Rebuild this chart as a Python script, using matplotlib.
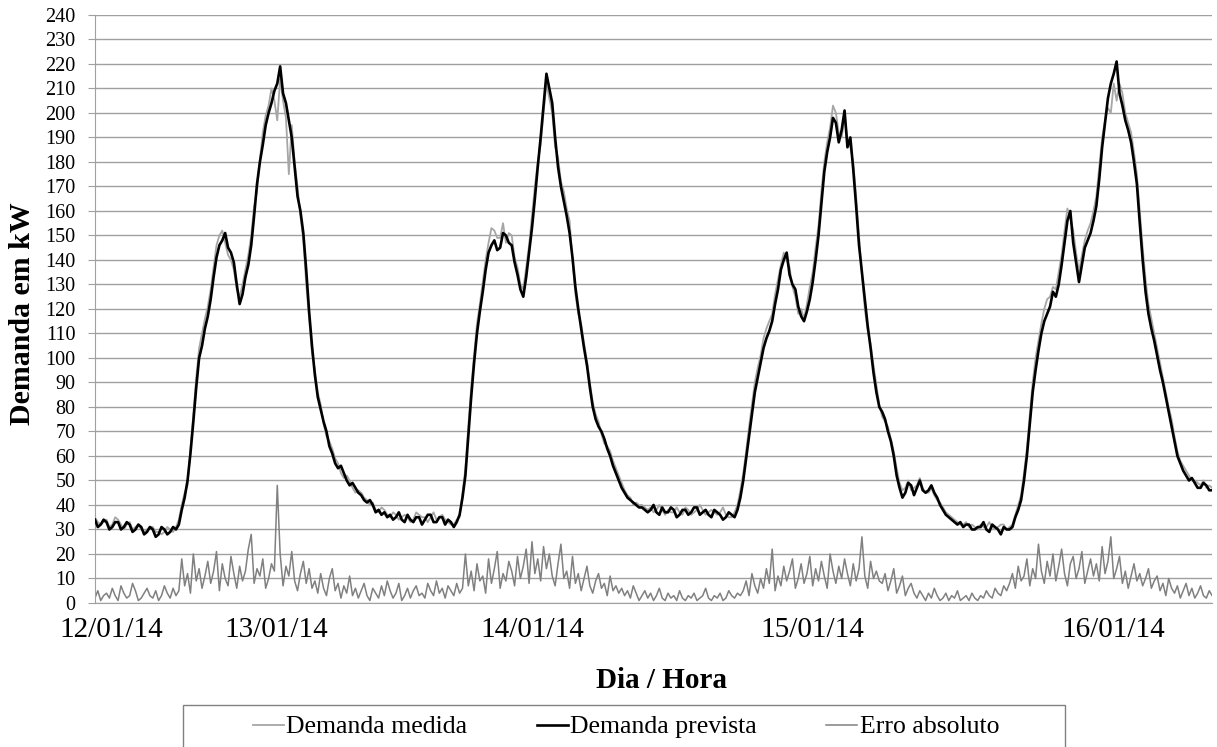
import numpy as np
import matplotlib
matplotlib.use("Agg")
import matplotlib.pyplot as plt
from matplotlib.patches import Rectangle

plt.rcParams['font.family'] = ['Liberation Serif', 'DejaVu Serif']

# 15-minute samples starting 12/01/14 00:00 (kW)
demanda_prevista = [
    34, 31, 32, 34, 33, 30, 31, 33, 33, 30, 31, 33, 32, 29, 30, 32, 31, 28, 29, 31, 30, 27, 28, 31, 30, 28, 29, 31, 30, 32,
    38, 43, 50, 61, 74, 88, 100, 105, 112, 117, 124, 133, 141, 146, 148, 151, 145, 143, 139, 130, 122, 126, 133, 138, 146, 158, 171, 180, 187, 195,
    200, 204, 209, 212, 219, 208, 204, 197, 190, 178, 166, 160, 151, 136, 119, 105, 93, 84, 79, 74, 70, 64, 61, 57, 55, 56, 53, 50, 48, 49, 47, 45, 44, 42, 41, 42,
    40, 37, 38, 36, 37, 35, 36, 34, 35, 37, 34, 33, 36, 34, 33, 35, 35, 32, 34, 36, 36, 33, 33, 35, 35, 32, 34, 33, 31, 33, 36, 43,
    52, 68, 84, 98, 110, 119, 127, 136, 143, 146, 148, 144, 145, 151, 150, 147, 146, 139, 134, 128, 125, 133, 143, 153, 165, 178, 190, 203, 216, 210, 204, 190,
    178, 170, 164, 158, 151, 141, 129, 120, 112, 104, 97, 88, 80, 75, 72, 70, 67, 63, 60, 56, 53, 50, 47, 45, 43, 42, 41, 40, 39, 39, 38, 37,
    38, 40, 37, 36, 39, 37, 37, 39, 38, 35, 36, 38, 38, 36, 37, 39, 39, 36, 37, 38, 36, 35, 38, 37, 36, 34, 35, 37, 36, 35,
    38, 43, 50, 59, 68, 77, 86, 92, 98, 104, 108, 111, 115, 122, 128, 136, 140, 143, 134, 130, 128, 121, 117, 115, 119, 124, 131, 140, 150, 163, 176, 184, 190, 198, 196, 188, 193, 201, 186, 190,
    177, 162, 146, 135, 124, 113, 104, 94, 86, 80, 78, 75, 70, 66, 60, 52, 47, 43, 45, 49, 48, 44, 47, 50, 46, 45, 46, 48, 45, 43, 40, 38, 36, 35, 34, 33, 32, 33, 31, 32,
    32, 30, 30, 31, 31, 33, 30, 29, 32, 31, 30, 28, 31, 30, 30, 31, 35, 38, 42, 50, 60, 73, 86, 95, 103, 110, 115, 118, 121, 127, 125, 130, 138, 147, 156, 160, 147, 139, 131, 138,
    145, 148, 151, 156, 162, 173, 186, 196, 206, 212, 216, 221, 208, 203, 197, 193, 188, 180, 171, 155, 140, 127, 118, 112, 107, 101, 95, 90, 84, 78, 72, 66, 60, 57, 54, 52, 50, 51, 49, 47,
    47, 49, 48, 46, 46,
]

demanda_medida = [
    35, 33, 32, 33, 34, 31, 32, 35, 34, 32, 30, 32, 33, 30, 31, 32, 30, 29, 30, 31, 31, 29, 29, 28, 29, 31, 30, 29, 31, 34,
    40, 45, 48, 63, 77, 92, 104, 110, 116, 121, 128, 137, 146, 150, 152, 147, 142, 140, 136, 128, 125, 130, 136, 142, 150, 162, 168, 181, 192, 199,
    203, 210, 205, 197, 214, 205, 198, 175, 195, 180, 170, 158, 148, 130, 116, 102, 95, 86, 81, 73, 68, 66, 63, 59, 57, 53, 51, 52, 50, 47, 45, 46, 45, 43, 42, 40,
    41, 38, 37, 39, 38, 36, 35, 37, 36, 34, 35, 36, 35, 33, 34, 37, 36, 35, 35, 33, 35, 37, 34, 35, 36, 34, 33, 32, 32, 34, 35, 45,
    55, 72, 88, 101, 114, 122, 131, 140, 147, 153, 152, 149, 149, 155, 147, 151, 150, 141, 137, 130, 128, 137, 146, 158, 170, 180, 187, 200, 212, 206, 200, 186,
    182, 172, 168, 161, 156, 140, 126, 118, 114, 106, 99, 90, 82, 77, 74, 69, 65, 64, 62, 58, 55, 52, 49, 46, 44, 43, 40, 41, 40, 40, 39, 38,
    39, 37, 38, 40, 38, 36, 38, 37, 37, 39, 37, 36, 39, 38, 36, 37, 38, 40, 38, 36, 37, 38, 37, 36, 37, 39, 36, 35, 35, 37,
    40, 46, 53, 62, 72, 81, 90, 96, 101, 108, 112, 115, 118, 126, 132, 138, 143, 140, 137, 129, 125, 118, 120, 116, 122, 129, 135, 145, 154, 168, 180, 188, 194, 203, 200, 192, 190, 198, 190, 186,
    180, 166, 150, 134, 120, 111, 106, 97, 89, 81, 76, 74, 72, 67, 62, 55, 49, 46, 47, 50, 46, 47, 48, 51, 47, 45, 45, 47, 44, 42, 41, 39, 37, 36, 35, 34, 33, 32, 32, 33,
    31, 32, 31, 30, 32, 31, 31, 33, 31, 30, 31, 32, 32, 30, 31, 32, 36, 40, 44, 53, 63, 77, 90, 100, 107, 114, 120, 124, 125, 129, 128, 135, 142, 152, 161, 157, 152, 143, 135, 142,
    148, 152, 155, 160, 166, 178, 190, 197, 202, 200, 212, 205, 212, 208, 200, 196, 192, 184, 175, 160, 145, 132, 122, 116, 110, 104, 98, 92, 86, 80, 75, 68, 62, 58, 56, 54, 52, 50, 50, 49,
    48, 50, 47, 48, 47,
]

erro_absoluto = [
    2, 5, 1, 3, 4, 2, 6, 3, 1, 7, 4, 2, 3, 8, 5, 1, 2, 4, 6, 3, 2, 5, 1, 3, 7, 4, 2, 6, 3, 5,
    18, 7, 12, 4, 20, 9, 14, 6, 11, 17, 8, 13, 21, 5, 16, 10, 7, 19, 12, 6, 15, 9, 13, 22, 28, 8, 14, 11, 18, 6,
    10, 16, 13, 48, 20, 7, 15, 11, 21, 9, 5, 12, 17, 8, 14, 6,
    9, 4, 12, 6, 3, 10, 14, 5, 8, 2, 7, 4, 11, 3, 6, 2, 5, 8, 3, 1, 6, 4, 2, 7, 3, 9, 5, 2, 4, 8,
    1, 3, 6, 2, 5, 7, 3, 4, 2, 8, 5, 3, 9, 4, 6, 2, 7, 5, 3, 8, 4, 6,
    20, 7, 13, 5, 16, 9, 11, 4, 18, 8, 14, 21, 6, 12, 9, 17, 13, 7, 19, 10, 15, 22, 8, 25, 12, 18, 9, 23, 14, 20,
    11, 7, 16, 24, 10, 13, 6, 19, 8, 12, 5, 10, 15, 7, 4, 9, 12, 6, 8, 3, 11, 5, 7, 4,
    6, 3, 5, 2, 7, 4, 1, 3, 5, 2, 4, 1, 3, 6, 2, 1, 4, 2, 3, 1, 5, 2, 1, 3, 2, 4, 1, 2, 3, 6,
    2, 1, 3, 2, 4, 1, 2, 5, 3, 2, 4, 3,
    5, 9, 3, 12, 7, 4, 10, 6, 14, 8, 22, 5, 11, 7, 15, 9, 13, 18, 6, 10, 16, 8, 12, 19, 7, 14, 9, 17, 11, 6,
    20, 13, 8, 15, 10, 18, 12, 7, 16, 9, 14, 27, 11, 6, 17, 10, 13, 9, 8, 12, 5, 9, 14, 4, 7, 11, 3, 6, 8, 4,
    2, 5, 3, 1, 4, 2, 6, 3, 1, 2, 4, 1, 3, 2, 5, 1, 2, 3, 1, 4, 2, 1, 3, 2, 5, 3, 2, 6, 4, 3, 7, 5,
    8, 12, 6, 15, 9, 11, 18, 7, 14, 10, 24, 13, 8, 17, 11, 20, 9, 15, 22, 12, 7, 16, 19, 10, 14, 21, 8, 13, 18, 11,
    16, 9, 23, 12, 17, 27, 10, 14, 19, 8, 13, 6, 11, 16, 9, 12, 7, 10, 14, 6, 9,
    11, 5, 8, 3, 10, 6, 4, 7, 2, 5, 8, 3, 6, 2, 4, 7, 3, 2, 5, 3,
]

dias = ['12/01/14', '13/01/14', '14/01/14', '15/01/14', '16/01/14']
dias_horas = [1.45, 15.7, 37.75, 61.95, 87.95]

horas = np.arange(len(demanda_prevista)) * 0.25

fig = plt.figure(figsize=(12.17, 7.47), dpi=100)
ax = fig.add_axes([0.078, 0.1928, 0.918, 0.7872])

ax.plot(horas, demanda_medida, color='#a6a6a6', lw=1.3, label='Demanda medida', zorder=3)
ax.plot(horas, demanda_prevista, color='black', lw=1.9, label='Demanda prevista', zorder=4)
ax.plot(horas, erro_absoluto, color='#808080', lw=1.1, label='Erro absoluto', zorder=2)

ax.set_xlim(0, horas[-1])
ax.set_ylim(0, 240)
ax.set_yticks(np.arange(0, 241, 10))
ax.yaxis.grid(True, color='#a0a0a0', lw=1)
ax.set_axisbelow(True)
ax.set_xticks(dias_horas)
ax.set_xticklabels(dias, fontsize=21)
ax.tick_params(axis='x', length=0, pad=10)
ax.tick_params(axis='y', labelsize=14.5, length=5, color='#a0a0a0', pad=9)
for s in ['top', 'right']:
    ax.spines[s].set_visible(False)
ax.spines['left'].set_color('#a0a0a0')
ax.spines['bottom'].set_color('#a0a0a0')

fig.text(23 / 1217, 1 - 314 / 747, 'Demanda em kW', rotation=90, ha='center', va='center',
         fontsize=21.5, fontweight='bold')
fig.text(662 / 1217, 1 - 680 / 747, 'Dia / Hora', ha='center', va='center',
         fontsize=21, fontweight='bold')

# legend box runs off the bottom of the image
fig.patches.append(Rectangle((183 / 1217, -0.02), (1065 - 183) / 1217, 1 - 705 / 747 + 0.02,
                             transform=fig.transFigure, fill=False, edgecolor='#808080', lw=1))
fig.legend(loc='center', bbox_to_anchor=(626 / 1217, 1 - 727 / 747), ncol=3, frameon=False,
           fontsize=18.5, handlelength=1.2, handletextpad=0.1, columnspacing=2.7)

fig.savefig('out.png', dpi=100)
